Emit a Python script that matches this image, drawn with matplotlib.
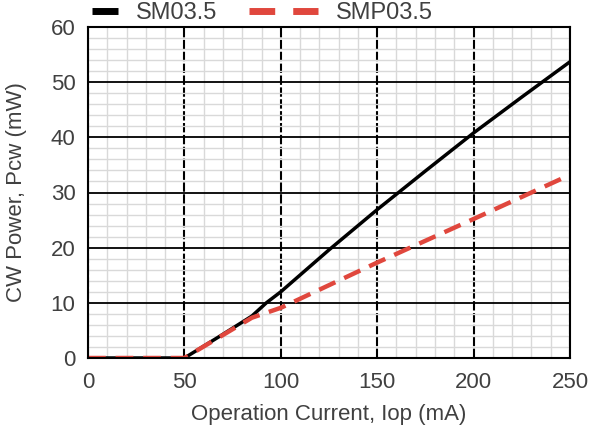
import matplotlib.pyplot as plt
from matplotlib.lines import Line2D
from matplotlib.ticker import MultipleLocator

plt.rcParams['font.family'] = ['Liberation Sans', 'DejaVu Sans']

# operation current (mA) and CW power (mW)
sm_current = [0, 50, 70, 85, 92.5, 100, 125, 150, 175, 200, 225, 250]
sm_power = [0, 0, 4.3, 7.6, 10, 12.0, 19.6, 26.9, 33.9, 40.8, 47.3, 53.7]
smp_current = [0, 50, 85, 100, 150, 200, 250]
smp_power = [0, 0, 7.3, 9.1, 17.3, 25.2, 33.2]
names = ['SM03.5', 'SMP03.5']

text_color = '#404040'
red = '#e0473d'

fig = plt.figure(figsize=(5.91, 4.33), dpi=100)
ax = fig.add_axes([88 / 591, 1 - 358 / 433, 482 / 591, 331 / 433])

ax.set_xlim(0, 250)
ax.set_ylim(0, 60)
ax.xaxis.set_major_locator(MultipleLocator(50))
ax.xaxis.set_minor_locator(MultipleLocator(10))
ax.yaxis.set_major_locator(MultipleLocator(10))
ax.yaxis.set_minor_locator(MultipleLocator(2))

ax.grid(which='minor', color='#d9d9d9', linewidth=1.0)
ax.grid(which='major', axis='y', color='black', linewidth=1.3)
ax.grid(which='major', axis='x', color='black', linewidth=1.5, linestyle=(0, (4.5, 1.2)))
ax.set_axisbelow(True)

ax.plot(sm_current, sm_power, color='black', linewidth=2.5, solid_capstyle='butt')
ax.plot(smp_current, smp_power, color=red, linewidth=3.2, linestyle=(0, (4, 2.2)))

ax.tick_params(which='both', length=0, labelsize=16, colors=text_color)
ax.tick_params(axis='x', pad=10)
ax.tick_params(axis='y', pad=9)
for s in ax.spines.values():
    s.set_color('black')
    s.set_linewidth(1.5)

ax.set_xlabel('Operation Current, Iop (mA)', fontsize=16, color=text_color, labelpad=8)
ax.set_ylabel('CW Power, Pcw (mW)', fontsize=16, color=text_color, labelpad=17)

# legend above the plot, handles drawn as in the original chart
h1 = Line2D([], [], color='black', linewidth=5, solid_capstyle='butt')
h2 = Line2D([], [], color=red, linewidth=5, linestyle=(0, (3.7, 2.6)))
fig.legend([h1], names[:1], loc='center left', bbox_to_anchor=(80 / 591, 1 - 13 / 433),
           frameon=False, fontsize=17, handlelength=1.1, handletextpad=0.75,
           labelcolor=text_color, borderpad=0)
fig.legend([h2], names[1:], loc='center left', bbox_to_anchor=(237 / 591, 1 - 13 / 433),
           frameon=False, fontsize=17, handlelength=2.95, handletextpad=0.75,
           labelcolor=text_color, borderpad=0)

fig.savefig('out.png', dpi=100)
